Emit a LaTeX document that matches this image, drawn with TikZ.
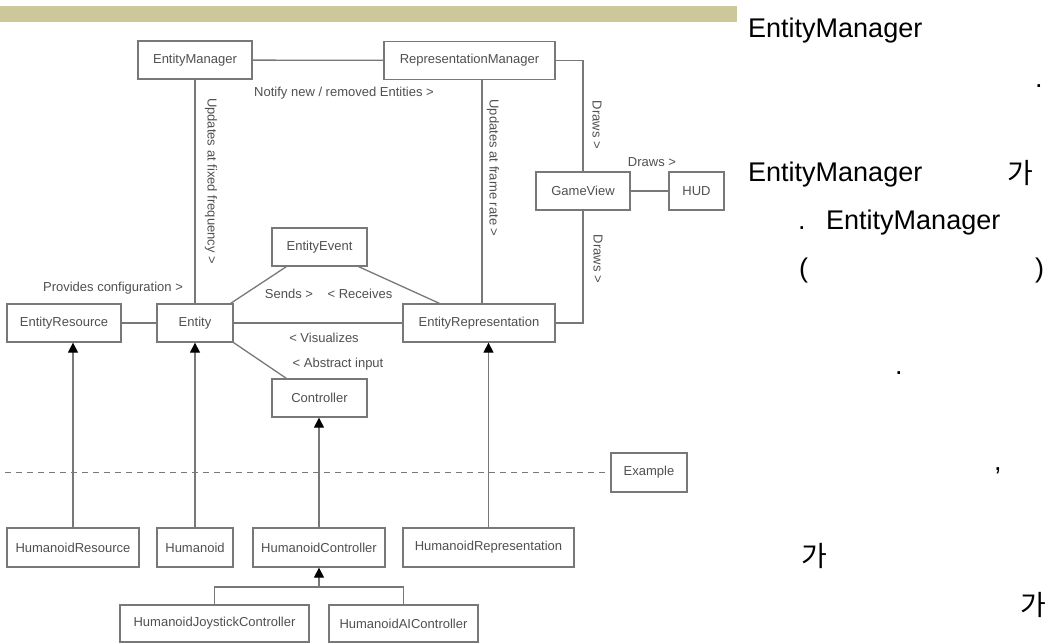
\documentclass[tikz,border=0pt]{standalone}
\usepackage{fontspec}
\setmainfont{Liberation Sans}
\newfontfamily\krfont{Noto Sans CJK KR}
\usetikzlibrary{arrows.meta}
\definecolor{band}{RGB}{204,200,154}
\definecolor{boxline}{RGB}{120,120,120}
\definecolor{txt}{RGB}{80,80,80}
\begin{document}
\begin{tikzpicture}[x=1pt,y=-1pt,
  box/.style={draw=boxline, line width=1.3pt, fill=white, text=txt, font=\fontsize{13}{15}\selectfont, inner sep=0pt, anchor=center, minimum height=38pt},
  conn/.style={draw=boxline, line width=1.3pt},
  lbl/.style={text=txt, font=\fontsize{13}{15}\selectfont, inner sep=0pt},
  inh/.style={conn, -{Triangle[width=10pt,length=10pt,fill=black,color=black]}},
  big/.style={font=\fontsize{27}{32}\selectfont, inner sep=0pt, anchor=base west, text=black},
  kr/.style={font=\krfont\fontsize{28}{32}\selectfont, inner sep=0pt, anchor=center, text=black}]
\useasboundingbox (0,0) rectangle (1047,643);
\fill[white] (0,0) rectangle (1047,643);
\fill[band] (0,6) rectangle (737,22);

% boxes
\node[box, minimum width=114pt] (em) at (195,60) {EntityManager};
\node[box, minimum width=171pt] (rm) at (469.5,60.5) {RepresentationManager};
\node[box, minimum width=94pt] (gv) at (583,191) {GameView};
\node[box, minimum width=55pt] (hud) at (696.5,191) {HUD};
\node[box, minimum width=95pt] (ee) at (319.5,247) {EntityEvent};
\node[box, minimum width=76pt] (ent) at (195,323) {Entity};
\node[box, minimum width=114pt] (eres) at (64,323) {EntityResource};
\node[box, minimum width=152pt] (er) at (479,323) {EntityRepresentation};
\node[box, minimum width=95pt] (ctrl) at (319.5,398) {Controller};
\node[box, minimum width=76pt, minimum height=39pt] (ex) at (649,472.5) {Example};
\node[box, minimum width=132pt, minimum height=39pt] (hres) at (73,547.5) {HumanoidResource};
\node[box, minimum width=76pt, minimum height=39pt] (hum) at (195,547.5) {Humanoid};
\node[box, minimum width=132pt, minimum height=39pt] (hctrl) at (319,547.5) {HumanoidController};
\node[box, minimum width=171pt, minimum height=39pt] (hrep) at (488.5,547.5) {HumanoidRepresentation};
\node[box, minimum width=189pt, minimum height=37pt] (hjoy) at (214.5,623.5) {HumanoidJoystickController};
\node[box, minimum width=149pt, minimum height=37pt] (hai) at (403.5,623.5) {HumanoidAIController};

% connectors
\draw[conn] (em) -- (rm);
\draw[conn] (rm.east) -| (gv.north);
\draw[conn] (er.east) -| (gv.south);
\draw[conn] (gv) -- (hud);
\draw[conn] (em) -- (ent);
\draw[conn] ([xshift=3pt]er.north) -- ([xshift=3pt]er.north |- rm.south);
\draw[conn] (eres) -- (ent);
\draw[conn] (ent) -- (er);
\draw[conn] ([xshift=-3pt]ent.north east) -- ([xshift=15pt]ee.south west);
\draw[conn] ([xshift=-9pt]ee.south east) -- ([xshift=37pt]er.north west);
\draw[conn] (ent.south east) -- ([xshift=15pt]ctrl.north west);

% inheritance
\draw[inh] (hres.north) -- (hres.north |- eres.south);
\draw[inh] (hum.north) -- (ent.south);
\draw[inh] (hctrl.north) -- (hctrl.north |- ctrl.south);
\draw[inh] (hrep.north) -- (hrep.north |- er.south);
\coordinate (br) at (319,587);
\draw[conn] (hjoy.north) |- (br) -| (hai.north);
\draw[inh] (br) -- (hctrl.south);

% dashed separator
\coordinate (dl) at (5,472.5);
\draw[conn, line width=1pt, dash pattern=on 6pt off 5pt] (dl) -- (ex.west);

% labels
\node[lbl] at (344,93) {Notify new / removed Entities >};
\node[lbl, rotate=-90] at (211,181) {Updates at fixed frequency >};
\node[lbl, rotate=-90] at (493,168) {Updates at frame rate >};
\node[lbl, rotate=-90] at (597,125) {Draws >};
\node[lbl, rotate=-90] at (598,259) {Draws >};
\node[lbl] at (652,162) {Draws >};
\node[lbl] at (113,288) {Provides configuration >};
\node[lbl] at (289,294) {Sends >};
\node[lbl] at (360,294) {< Receives};
\node[lbl] at (324,338) {< Visualizes};
\node[lbl] at (338,364) {< Abstract input};

% right-hand text
\node[big] at (748,37) {EntityManager};
\node[big] at (1035,87) {.};
\node[big] at (748,181) {EntityManager};
\node[kr] at (1020,172.5) {가};
\node[big] at (798,229) {.};
\node[big] at (826,229) {EntityManager};
\node[big] at (799,277) {(};
\node[big] at (1035,277) {)};
\node[big] at (895,374) {.};
\node[big] at (994,470) {,};
\node[kr] at (814,556) {가};
\node[kr] at (1033,605) {가};
\end{tikzpicture}
\end{document}
